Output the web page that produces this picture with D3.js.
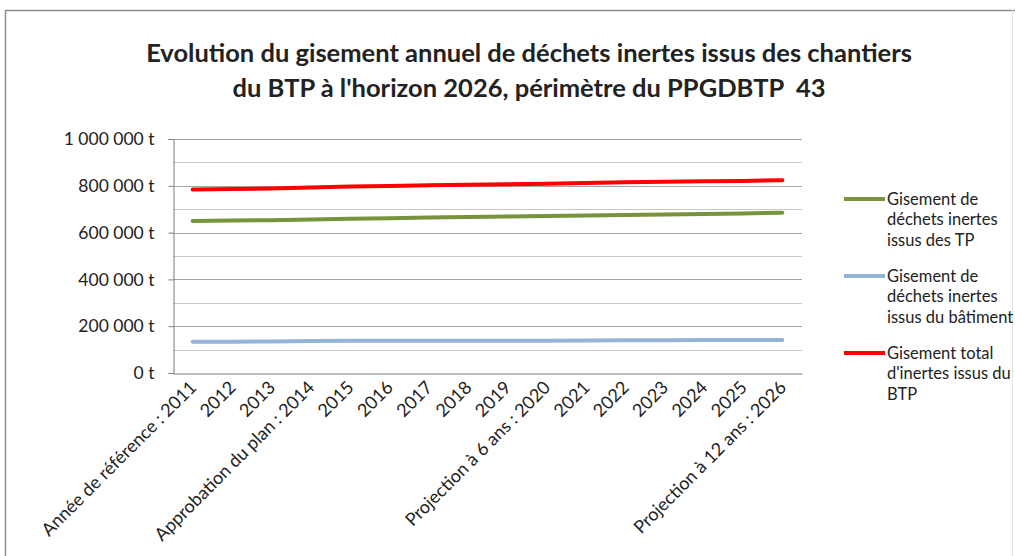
<!DOCTYPE html>
<html>
<head>
<meta charset="utf-8">
<script src="https://cdn.jsdelivr.net/npm/d3@7"></script>
<style>
  body { margin: 0; background: #fff; }
  text { font-family: Lato, "Open Sans", sans-serif; fill: #222; }
</style>
</head>
<body>
<svg width="1015" height="556"></svg>
<script>
// categories (x axis)
const years = [
  "Année de référence : 2011", "2012", "2013", "Approbation du plan : 2014",
  "2015", "2016", "2017", "2018", "2019", "Projection à 6 ans : 2020",
  "2021", "2022", "2023", "2024", "2025", "Projection à 12 ans : 2026"
];
// tonnes per year
const tp = [650000, 652000, 653000, 656000, 659000, 661000, 664000, 667000, 669000, 671000, 673000, 675000, 677000, 679000, 682000, 685000];
const batiment = [134000, 134000, 135000, 137000, 138000, 138000, 138000, 138000, 138000, 138000, 139000, 140000, 140000, 141000, 141000, 141000];
const total = [784000, 786000, 788000, 793000, 797000, 799000, 802000, 805000, 807000, 809000, 812000, 815000, 817000, 819000, 821000, 824000];
const yTicks = [0, 200000, 400000, 600000, 800000, 1000000];
const seriesNames = [
  ["Gisement de", "déchets inertes", "issus des TP"],
  ["Gisement de", "déchets inertes", "issus du bâtiment"],
  ["Gisement total", "d'inertes issus du", "BTP"]
];

const series = [
  { values: tp, color: "#77933c", name: seriesNames[0] },
  { values: batiment, color: "#95b3d7", name: seriesNames[1] },
  { values: total, color: "#ff0000", name: seriesNames[2] }
];

const svg = d3.select("svg");

// outer frame
svg.append("line").attr("x1", 5).attr("x2", 1015).attr("y1", 10.5).attr("y2", 10.5)
  .attr("stroke", "#8c8c8c").attr("stroke-width", 1.5);
svg.append("line").attr("x1", 5.5).attr("x2", 5.5).attr("y1", 10).attr("y2", 556)
  .attr("stroke", "#8c8c8c").attr("stroke-width", 1.5);
svg.append("line").attr("x1", 1012.5).attr("x2", 1012.5).attr("y1", 10).attr("y2", 556)
  .attr("stroke", "#e4e4e4");

// title
const title = svg.append("text")
  .attr("text-anchor", "middle")
  .attr("font-weight", "bold")
  .attr("font-size", 25.5)
  .style("white-space", "pre");
title.append("tspan").attr("x", 529).attr("y", 62)
  .text("Evolution du gisement annuel de déchets inertes issus des chantiers");
title.append("tspan").attr("x", 529).attr("y", 97)
  .text("du BTP à l'horizon 2026, périmètre du PPGDBTP  43");

const plot = { left: 173, right: 802, top: 139, bottom: 373 };

const x = d3.scaleBand()
  .domain(years)
  .range([plot.left, plot.right]);

const y = d3.scaleLinear()
  .domain([0, 1000000])
  .range([plot.bottom, plot.top]);

// gridlines every 100 000 t
const g = svg.append("g");
g.selectAll("line.grid")
  .data(d3.range(100000, 1000001, 100000))
  .join("line")
  .attr("class", "grid")
  .attr("x1", plot.left).attr("x2", plot.right)
  .attr("y1", d => Math.round(y(d)) + 0.5).attr("y2", d => Math.round(y(d)) + 0.5)
  .attr("stroke", d => d % 200000 === 0 ? "#a6a6a6" : "#c8c8c8")
  .attr("stroke-width", 1);

// y axis
const fmt = v => d3.format(",")(v).replace(/,/g, " ") + " t";
const yAxis = svg.append("g")
  .attr("transform", `translate(${plot.left + 0.5},0)`)
  .call(d3.axisLeft(y).tickValues(yTicks).tickFormat(fmt).tickSize(5).tickPadding(14));
yAxis.select(".domain").attr("stroke", "#7f7f7f");
yAxis.selectAll(".tick line").attr("stroke", "#7f7f7f");
yAxis.selectAll(".tick text")
  .attr("font-size", 17.5)
  .attr("font-family", "Lato, sans-serif")
  .attr("fill", "#222");

// x axis
const xAxis = svg.append("g")
  .attr("transform", `translate(0,${plot.bottom + 0.5})`)
  .call(d3.axisBottom(x).tickSize(0).tickPadding(0));
xAxis.select(".domain").attr("stroke", "#7f7f7f");
xAxis.selectAll(".tick text")
  .attr("font-size", 18)
  .attr("font-family", "Lato, sans-serif")
  .attr("fill", "#222")
  .attr("text-anchor", "end")
  .attr("dy", null)
  .attr("y", 0)
  .attr("transform", "translate(5,15) rotate(-45)");

// lines
const line = d3.line()
  .x((d, i) => x(years[i]) + x.bandwidth() / 2)
  .y(d => y(d));

svg.selectAll("path.series")
  .data(series)
  .join("path")
  .attr("class", "series")
  .attr("d", d => line(d.values))
  .attr("fill", "none")
  .attr("stroke", d => d.color)
  .attr("stroke-width", 4)
  .attr("stroke-linecap", "round");

// legend
const legend = svg.append("g");
const legendY = [199, 276, 353];
series.forEach((s, i) => {
  const lg = legend.append("g").attr("transform", `translate(844,${legendY[i]})`);
  lg.append("line").attr("x1", 0).attr("x2", 41).attr("y1", 0).attr("y2", 0)
    .attr("stroke", s.color).attr("stroke-width", 4);
  const t = lg.append("text").attr("font-size", 16.5);
  s.name.forEach((n, k) => {
    t.append("tspan").attr("x", 43).attr("y", 5.5 + k * 20.7).text(n);
  });
});
</script>
</body>
</html>
